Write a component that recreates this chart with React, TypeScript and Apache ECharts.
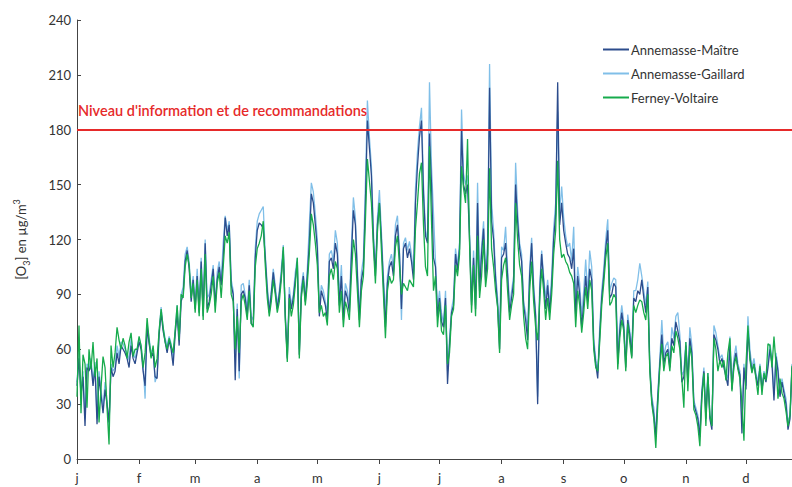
import React, { useEffect, useRef } from "react";
import * as echarts from "echarts";

const MONTH_START = [0, 31, 59, 90, 120, 151, 181, 212, 243, 273, 304, 334];
const MONTH_LABELS = ["j", "f", "m", "a", "m", "j", "j", "a", "s", "o", "n", "d"];

const SERIES_NAMES = ["Annemasse-Maître", "Annemasse-Gaillard", "Ferney-Voltaire"];

const MAITRE = [
  40, 55, 35, 45, 18, 50, 48, 52, 40, 50, 19, 45, 35, 25, 38, 30, 20, 50, 45, 48, 58, 52, 62, 60, 58, 55, 50, 62, 55, 52,
  58, 64, 60, 48, 40, 72, 63, 56, 58, 45, 44, 68, 80, 70, 64, 58, 65, 60, 51, 68, 80, 62, 86, 90, 108, 114, 104, 86,
  98, 82, 100, 80, 108, 78, 118, 82, 86, 95, 104, 84, 98, 105, 95, 110, 132, 122, 128, 95, 90, 43, 82, 48, 90, 92, 88, 78, 95, 74,
  73, 110, 125, 129, 128, 126, 110, 92, 80, 90, 102, 92, 82, 90, 100, 114, 78, 55, 90, 82, 88, 98, 108, 57, 90, 100, 86, 100, 118,
  145, 140, 128, 115, 78, 92, 88, 84, 76, 108, 110, 104, 118, 112, 84, 100, 76, 92, 88, 80, 110, 136, 128, 100, 76, 98, 104, 140, 185, 170, 155,
  120, 100, 128, 140, 120, 96, 72, 96, 105, 108, 100, 122, 128, 112, 82, 115, 118, 110, 115, 108, 98, 140, 160, 176, 185, 145, 122, 118, 178,
  150, 110, 105, 78, 88, 75, 72, 88, 41, 62, 80, 84, 112, 103, 115, 180, 150, 145, 150, 120, 84, 110, 82, 140, 92, 112, 126, 98, 112, 203,
  130, 120, 98, 84, 60, 110, 112, 118, 100, 80, 88, 97, 150, 130, 115, 108, 84, 76, 65, 100, 118, 92, 78, 30, 90, 112, 97, 82, 95, 80,
  95, 120, 134, 206,
  128, 140, 125, 118, 112, 110, 104, 115, 78, 100, 90, 72, 85, 100, 86, 104, 98, 63, 52, 44, 68, 88, 100, 115, 125, 88, 90, 96, 94, 52, 70, 80,
  72, 50, 76, 68, 56, 88, 86, 92, 90, 98, 88, 80, 94, 50, 32, 24, 12, 34, 52, 68, 52, 58, 60, 50, 66, 62, 75, 70, 64, 42,
  45, 62, 42, 66, 58, 30, 26, 22, 12, 36, 48, 22, 45, 22, 16, 68, 65, 60, 52, 55, 50, 45, 40, 62, 38, 52, 58, 50, 46, 14,
  50, 38, 70, 56, 48, 52, 45, 40, 50, 38, 46, 42, 50, 60, 52, 32, 56, 48, 34, 42, 36, 30, 16, 22, 50,
];

const GAILLARD = [
  42, 58, 37, 48, 22, 52, 50, 55, 42, 53, 22, 48, 38, 28, 42, 32, 18, 52, 48, 50, 62, 56, 64, 63, 60, 58, 54, 66, 58, 55,
  60, 66, 62, 52, 33, 74, 66, 58, 60, 42, 46, 70, 83, 72, 66, 62, 67, 63, 55, 70, 84, 65, 90, 94, 112, 116, 108, 90,
  100, 84, 104, 83, 110, 82, 120, 88, 90, 98, 106, 86, 102, 108, 98, 118, 133, 125, 130, 98, 92, 56, 85, 44, 95, 96, 90, 82, 98, 78,
  76, 115, 130, 134, 136, 138, 112, 95, 82, 92, 104, 95, 84, 92, 104, 117, 80, 56, 94, 84, 90, 102, 110, 60, 94, 102, 88, 104, 128,
  151, 146, 134, 120, 82, 95, 92, 86, 80, 112, 114, 108, 125, 118, 88, 106, 80, 96, 92, 84, 116, 143, 132, 104, 80, 102, 110, 150, 196, 176, 160,
  124, 104, 132, 147, 124, 100, 80, 100, 108, 112, 104, 128, 133, 115, 76, 118, 121, 114, 119, 112, 101, 148, 168, 182, 192, 150, 125, 120, 206,
  160, 134, 108, 82, 92, 80, 74, 92, 48, 66, 82, 88, 115, 106, 118, 191, 156, 150, 155, 125, 86, 114, 84, 151, 96, 116, 130, 102, 118, 216,
  140, 125, 102, 88, 70, 116, 114, 127, 104, 84, 92, 100, 162, 136, 118, 112, 86, 80, 70, 104, 121, 96, 80, 34, 95, 114, 100, 88, 98, 84,
  100, 126, 140, 190,
  135, 149, 132, 122, 116, 118, 108, 127, 84, 105, 96, 78, 92, 109, 90, 114, 105, 66, 55, 47, 72, 92, 104, 120, 131, 92, 96, 99, 98, 56, 74, 84,
  75, 54, 79, 70, 60, 92, 92, 98, 107, 100, 92, 84, 97, 54, 34, 28, 14, 36, 55, 76, 56, 62, 64, 54, 72, 66, 78, 80, 68, 46,
  48, 64, 45, 72, 62, 32, 28, 24, 14, 38, 50, 26, 47, 24, 18, 73, 69, 62, 55, 57, 52, 47, 44, 67, 42, 55, 62, 52, 48, 20,
  52, 40, 78, 60, 50, 55, 47, 42, 52, 40, 48, 45, 52, 63, 55, 35, 58, 50, 36, 44, 38, 33, 20, 24, 52,
];

const FERNEY = [
  34, 73, 25, 57, 52, 28, 60, 49, 64, 45, 55, 20, 39, 56, 50, 28, 8, 62, 50, 58, 72, 65, 60, 66, 62, 55, 64, 69, 56, 60,
  60, 67, 62, 50, 58, 77, 65, 55, 62, 50, 55, 70, 82, 72, 64, 60, 66, 62, 58, 70, 84, 65, 90, 88, 105, 112, 106, 88,
  96, 80, 98, 78, 104, 76, 112, 80, 84, 90, 100, 80, 96, 102, 88, 105, 122, 118, 124, 90, 86, 60, 78, 58, 86, 90, 84, 76, 92, 74,
  72, 105, 115, 118, 122, 130, 106, 88, 78, 86, 98, 90, 80, 86, 98, 116, 76, 53, 88, 78, 84, 95, 110, 55, 88, 98, 84, 96, 112,
  134, 128, 118, 106, 80, 84, 78, 80, 73, 100, 104, 98, 108, 104, 80, 92, 72, 86, 82, 76, 100, 120, 112, 92, 72, 92, 100, 130, 164, 152, 140,
  116, 96, 124, 140, 114, 90, 66, 92, 100, 96, 98, 116, 122, 106, 90, 96, 94, 92, 98, 96, 94, 126, 140, 156, 162, 128, 105, 100, 171,
  130, 92, 100, 72, 86, 70, 68, 84, 52, 58, 78, 82, 106, 100, 112, 160, 148, 140, 175, 118, 80, 106, 78, 122, 88, 100, 120, 94, 104, 159,
  115, 105, 92, 83, 58, 98, 106, 110, 92, 76, 84, 90, 140, 120, 106, 100, 78, 66, 60, 92, 108, 86, 72, 65, 86, 104, 92, 76, 88, 76,
  90, 112, 125, 163,
  120, 110, 112, 108, 106, 102, 100, 96, 72, 92, 84, 69, 80, 94, 82, 98, 92, 60, 50, 48, 64, 84, 96, 110, 118, 84, 86, 90, 88, 49, 66, 76,
  70, 48, 74, 64, 55, 84, 80, 84, 87, 86, 80, 76, 90, 48, 30, 22, 6, 30, 50, 63, 48, 56, 58, 48, 62, 58, 70, 66, 60, 44,
  28, 64, 37, 62, 55, 27, 24, 18, 7, 33, 47, 18, 47, 24, 18, 66, 60, 48, 54, 50, 54, 43, 58, 66, 37, 50, 56, 49, 44, 30,
  10, 51, 73, 54, 47, 52, 44, 35, 51, 35, 47, 43, 63, 62, 50, 67, 52, 33, 44, 36, 33, 26, 18, 24, 51,
];

const Y_MIN = 0;
const Y_MAX = 240;
const Y_STEP = 30;
const THRESHOLD = 180;
const THRESHOLD_LABEL = "Niveau d'information et de recommandations";

const COLORS = {
  maitre: "#2c4c8c",
  gaillard: "#80bfe8",
  ferney: "#16ab4c",
  red: "#e62a2a",
  text: "#333333",
};

const FONT = "Lato, 'Open Sans', sans-serif";

export default function App() {
  const ref = useRef<HTMLDivElement>(null);

  useEffect(() => {
    if (!ref.current) return;
    const chart = echarts.init(ref.current, null, { renderer: "svg" });
    const days = MAITRE.map((_, i) => String(i));
    const isMonthStart = (index: number) => MONTH_START.includes(index);

    const lineSeries = (name: string, data: number[], color: string, extra: any = {}) => ({
      name,
      type: "line",
      data,
      showSymbol: false,
      symbol: "none",
      color,
      lineStyle: { color, width: 1.3 },
      emphasis: { disabled: true },
      ...extra,
    });

    chart.setOption({
      animation: false,
      textStyle: { fontFamily: FONT },
      grid: { left: 77, right: 0, top: 20, bottom: 28, containLabel: false },
      legend: {
        orient: "vertical",
        left: 598,
        top: 38,
        itemGap: 11,
        itemWidth: 26,
        itemHeight: 2,
        icon: "rect",
        data: SERIES_NAMES,
        textStyle: { fontSize: 13, color: COLORS.text, fontFamily: FONT, padding: [0, 0, 0, -3] },
      },
      xAxis: {
        type: "category",
        data: days,
        boundaryGap: false,
        axisLine: { show: true, lineStyle: { color: "#444", width: 1 } },
        axisTick: { show: true, interval: isMonthStart, length: 5, lineStyle: { color: "#444" } },
        axisLabel: {
          interval: isMonthStart,
          formatter: (_v: string, i: number) => MONTH_LABELS[MONTH_START.indexOf(i)] ?? "",
          align: "center",
          margin: 12,
          fontSize: 13,
          color: COLORS.text,
          fontFamily: FONT,
        },
        splitLine: { show: false },
      },
      yAxis: {
        type: "value",
        min: Y_MIN,
        max: Y_MAX,
        interval: Y_STEP,
        name: "[O{sub|3}] en µg/m{sup|3}",
        nameLocation: "middle",
        nameRotate: 90,
        nameGap: 50,
        nameTextStyle: {
          fontSize: 13,
          color: COLORS.text,
          fontFamily: FONT,
          rich: {
            sub: { fontSize: 9, verticalAlign: "bottom", color: COLORS.text, padding: [0, 0, -4, 0] },
            sup: { fontSize: 9, verticalAlign: "top", color: COLORS.text, padding: [-2, 0, 0, 0] },
          },
        },
        axisLine: { show: true, lineStyle: { color: "#444", width: 1 } },
        axisTick: { show: true, inside: true, length: 4, lineStyle: { color: "#444" } },
        axisLabel: { fontSize: 13, color: COLORS.text, margin: 6, fontFamily: FONT },
        splitLine: { show: false },
      },
      series: [
        lineSeries(SERIES_NAMES[1], GAILLARD, COLORS.gaillard),
        lineSeries(SERIES_NAMES[0], MAITRE, COLORS.maitre),
        lineSeries(SERIES_NAMES[2], FERNEY, COLORS.ferney, {
          markLine: {
            silent: true,
            symbol: ["none", "none"],
            data: [{ yAxis: THRESHOLD }],
            lineStyle: { color: COLORS.red, width: 2, type: "solid" },
            label: {
              show: true,
              position: "insideStartTop",
              formatter: THRESHOLD_LABEL,
              color: COLORS.red,
              fontSize: 14.5,
              fontWeight: 600,
              fontFamily: FONT,
              distance: [1, 12],
            },
          },
        }),
      ],
    });
    return () => chart.dispose();
  }, []);

  return (
    <div
      ref={ref}
      style={{ position: "fixed", left: 0, top: 0, width: 792, height: 487, background: "#ffffff" }}
    />
  );
}
